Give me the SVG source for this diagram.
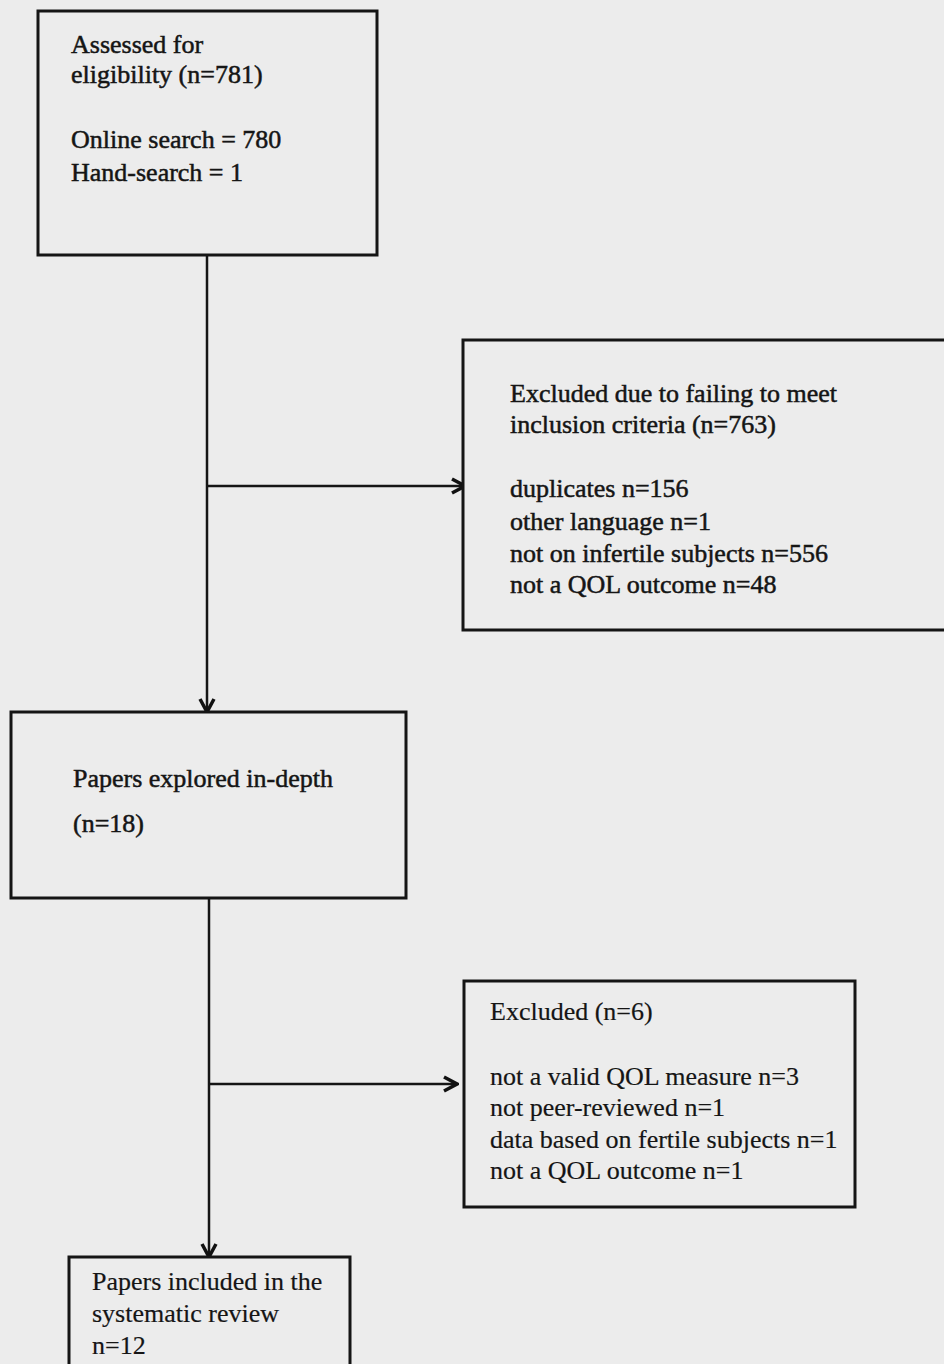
<svg xmlns="http://www.w3.org/2000/svg" width="944" height="1364" viewBox="0 0 944 1364">
<defs>
<marker id="arr" viewBox="0 0 18 18" refX="16" refY="9" markerWidth="18" markerHeight="18" markerUnits="userSpaceOnUse" orient="auto">
<path d="M3,2 L16,9 L3,16" fill="none" stroke="#111" stroke-width="3.5" stroke-linejoin="miter"/>
</marker>
</defs>
<style>
.box{fill:#ececec;stroke:#151515;stroke-width:3}
.t{font-family:"Liberation Serif","Times New Roman",serif;font-size:26px;fill:#151515;stroke:#151515;stroke-width:0.5}
.l{stroke-width:0.2}
.c{fill:none;stroke:#151515;stroke-width:2.5}
</style>
<rect x="0" y="0" width="944" height="1364" fill="#ececec"/>
<g id="connectors">
<line class="c" x1="207" y1="255" x2="207" y2="712" marker-end="url(#arr)"/>
<line class="c" x1="207" y1="486" x2="465" y2="486" marker-end="url(#arr)"/>
<line class="c" x1="209" y1="898" x2="209" y2="1257" marker-end="url(#arr)"/>
<line class="c" x1="209" y1="1084" x2="457" y2="1084" marker-end="url(#arr)"/>
</g>
<g id="assessed">
<rect class="box" x="38" y="11" width="339" height="244"/>
<text class="t" x="71" y="53">Assessed for</text>
<text class="t" x="71" y="83">eligibility (n=781)</text>
<text class="t" x="71" y="148">Online search = 780</text>
<text class="t" x="71" y="181">Hand-search = 1</text>
</g>
<g id="excluded1">
<rect class="box" x="463" y="340" width="490" height="290"/>
<text class="t" x="510" y="402">Excluded due to failing to meet</text>
<text class="t" x="510" y="433">inclusion criteria (n=763)</text>
<text class="t" x="510" y="497">duplicates n=156</text>
<text class="t" x="510" y="530">other language n=1</text>
<text class="t" x="510" y="562">not on infertile subjects n=556</text>
<text class="t" x="510" y="593">not a QOL outcome n=48</text>
</g>
<g id="explored">
<rect class="box" x="11" y="712" width="395" height="186"/>
<text class="t" x="73" y="787">Papers explored in-depth</text>
<text class="t" x="73" y="832">(n=18)</text>
</g>
<g id="excluded2">
<rect class="box" x="464" y="981" width="391" height="226"/>
<text class="t l" x="490" y="1020">Excluded (n=6)</text>
<text class="t l" x="490" y="1085">not a valid QOL measure n=3</text>
<text class="t l" x="490" y="1116">not peer-reviewed n=1</text>
<text class="t l" x="490" y="1148">data based on fertile subjects n=1</text>
<text class="t l" x="490" y="1179">not a QOL outcome n=1</text>
</g>
<g id="included">
<rect class="box" x="69" y="1257" width="281" height="120"/>
<text class="t l" x="92" y="1290">Papers included in the</text>
<text class="t l" x="92" y="1322">systematic review</text>
<text class="t l" x="92" y="1354">n=12</text>
</g>
</svg>
